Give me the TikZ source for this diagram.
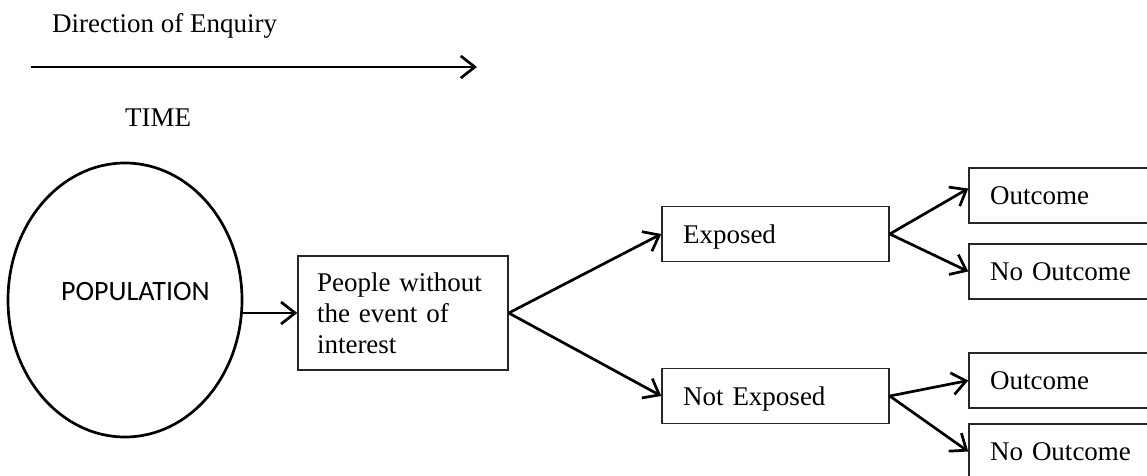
\documentclass[tikz,border=0pt]{standalone}
\usepackage{fontspec}
\setmainfont{Liberation Serif}
\newfontfamily\popfont{Carlito}
\usetikzlibrary{arrows.meta,shapes.geometric,calc}

\begin{document}
\begin{tikzpicture}[x=1pt, y=1pt,
    every node/.style={font=\fontsize{27pt}{31pt}\selectfont},
    box/.style={draw=black!85, line width=1.5pt, rectangle, inner xsep=21pt, inner ysep=0pt,
        minimum height=55pt, align=left, text height=18pt, text depth=0pt},
    arr/.style={line width=2.7pt, -{Straight Barb[length=14pt,width=22pt]}}]
    \useasboundingbox (0,0) rectangle (1147,475);
    \clip (0,0) rectangle (1147,475);
    % direction of enquiry
    \node[anchor=base west, inner sep=0pt] (dir) at (52,442) {Direction of Enquiry};
    \coordinate (t0) at (31,408);
    \coordinate (t1) at (477,408);
    \draw[arr] (t0) -- (t1);
    \node[anchor=base west, inner sep=0pt] (time) at (125,349) {TIME};
    % population and groups
    \node[ellipse, draw, line width=2.7pt, minimum width=234pt, minimum height=274pt, inner sep=0pt,
        label={[font=\popfont\fontsize{28pt}{32pt}\selectfont, inner sep=0pt, xshift=10.5pt, yshift=8pt]center:POPULATION}] (pop) at (125,175) {};
    \node[box, text width=172pt, inner xsep=19pt, minimum height=114pt, text height={}, text depth={}] (ppl) at (403,162) {People without\\the event of\\interest};
    \node[box, text width=185pt] (exp)  at (775.5,241) {Exposed};
    \node[box, text width=185pt] (nexp) at (775.5,79)  {Not Exposed};
    \node[box, text width=168pt] (out1)  at (1074,279.5) {Outcome};
    \node[box, text width=168pt] (nout1) at (1074,203.5) {No Outcome};
    \node[box, text width=168pt] (out2)  at (1074,94.5)  {Outcome};
    \node[box, text width=168pt] (nout2) at (1074,23.5)  {No Outcome};
    % arrows
    \draw[arr] (pop.east |- ppl.west) -- (ppl.west);
    \draw[arr] (exp.east) -- ($(out1.west)+(0,7)$);
    \foreach \a/\b in {ppl/exp, ppl/nexp, exp/nout1, nexp/out2, nexp/nout2}
        \draw[arr] (\a.east) -- (\b.west);
\end{tikzpicture}
\end{document}
